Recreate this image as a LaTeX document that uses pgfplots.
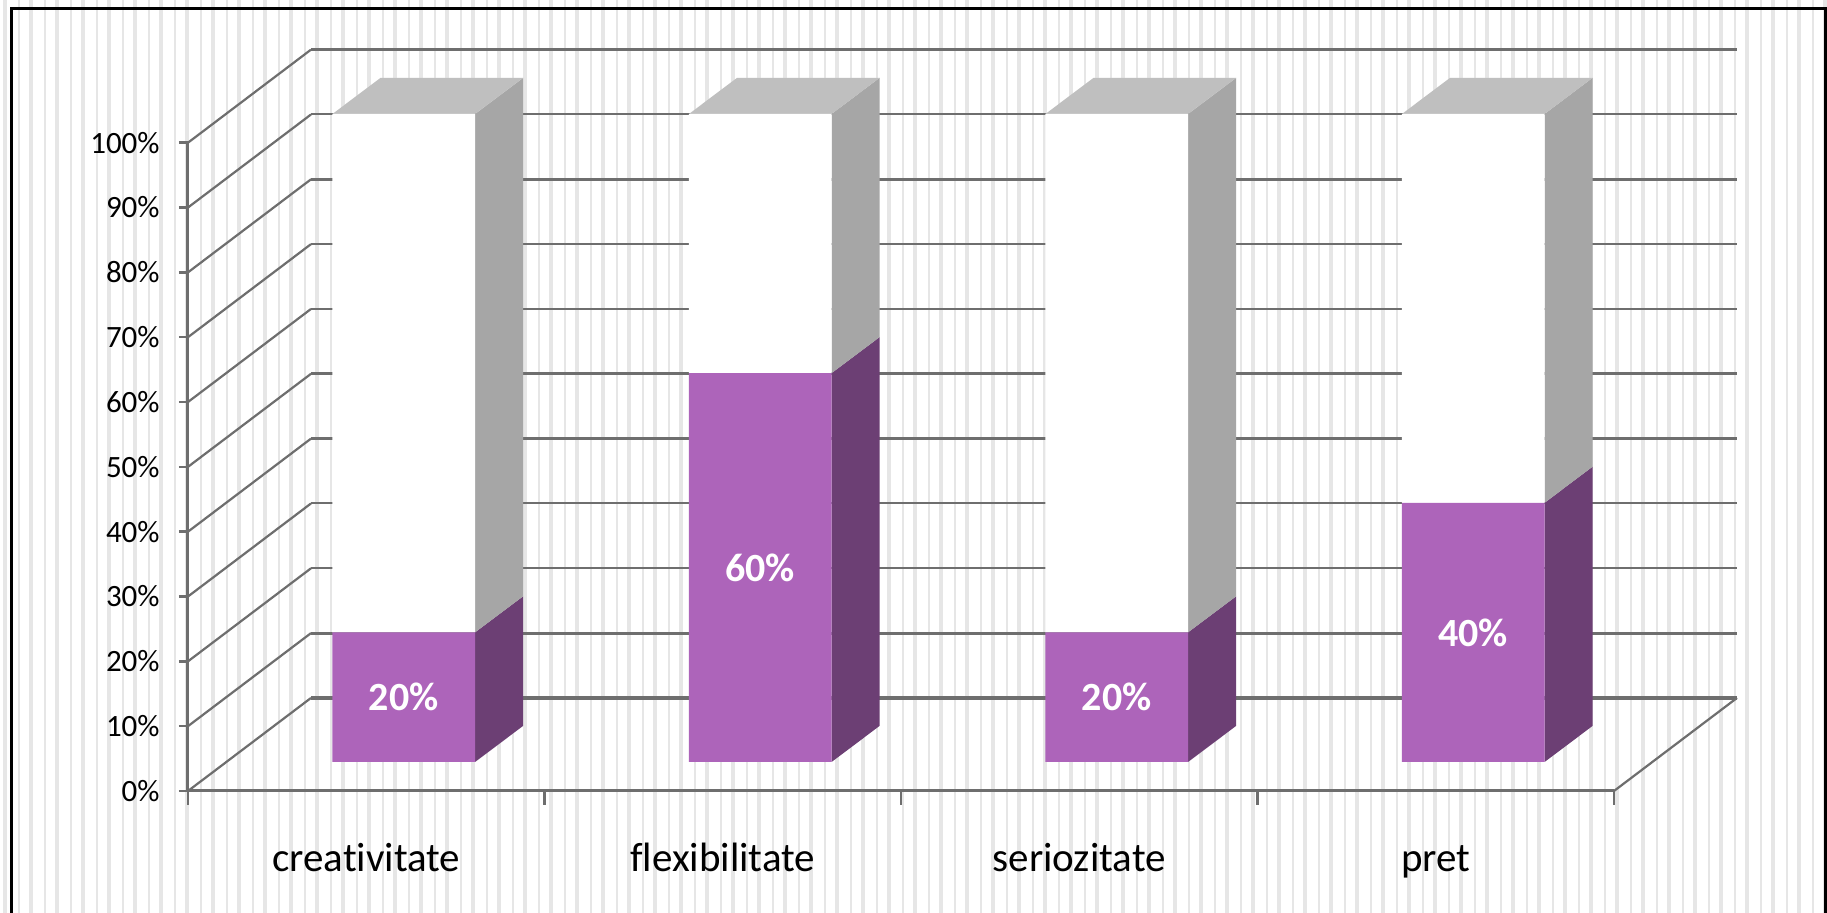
\documentclass[border=0pt]{standalone}
\usepackage{pgfplots}
\pgfplotsset{compat=1.18}
\usepackage{pgfplotstable}
\usepackage{fontspec}
\setmainfont{Carlito}[Ligatures=NoCommon]
\definecolor{wallline}{HTML}{6E6E6E}
\definecolor{stripe}{HTML}{E6E6E6}
\definecolor{barfront}{HTML}{AD64BA}
\definecolor{barside}{HTML}{6C3F74}
\definecolor{restside}{HTML}{A6A6A6}
\definecolor{resttop}{HTML}{BFBFBF}

% share of each category and the remainder up to 100%
\pgfplotstableread{
x    share rest
0.5  20    80
1.5  60    40
2.5  20    80
3.5  40    60
}\sharetable

% one gridline of the wall: diagonal on the side wall, then along the back wall
\newcommand{\wallline}[3]{%
  \addplot[wallline, line width=1.1pt] coordinates {(0,#1) (0.345,#2)};
  \addplot[wallline, line width=#3] coordinates {(0.345,#2) (4.345,#2)};
}

\pgfplotsset{
  plane/.style={scale only axis, width=713pt, xmin=0, xmax=4, ymin=0, ymax=100, clip=false},
}

\begin{document}
\begin{tikzpicture}[x=0.5pt,y=0.5pt]
  \path[use as bounding box] (0,0) rectangle (1827,913);
  \fill[white] (0,0) rectangle (1827,913);
  % vertical stripes of the chart background
  \foreach \k in {-4,...,66}{
    \fill[stripe] ({109+26*\k-2},0) rectangle ({109+26*\k+2},913);
    \fill[stripe] ({122.7+26*\k-1},0) rectangle ({122.7+26*\k+1},913);
  }
  % outer frame, open below the page edge
  \draw[black, line width=1.5pt] (11,-20) -- (11,904) -- (1825,904) -- (1825,-20);

  % walls, value axis and category axis
  \begin{axis}[plane, height=324.15pt, at={(94pt,61pt)}, anchor=south west,
      axis x line*=bottom, axis y line*=left,
      axis line style={wallline, line width=1.5pt},
      ytick={0,10,...,100},
      yticklabels={0\%,10\%,20\%,30\%,40\%,50\%,60\%,70\%,80\%,90\%,100\%},
      yticklabel style={font=\fontsize{15.5}{17}\selectfont, black, inner sep=0pt, xshift=-9.5pt},
      xtick={0.5,1.5,2.5,3.5},
      xticklabels={creativitate,flexibilitate,seriozitate,pret},
      xticklabel style={font=\fontsize{20.5}{24}\selectfont, black, yshift=-17pt,
        text height=15pt, text depth=0pt},
      minor xtick={0,1,2,3,4},
      tick align=outside,
      major x tick style={draw=none},
      major y tick style={wallline, line width=1.2pt},
      minor tick style={wallline, line width=1.2pt},
      minor tick length=7pt,
      major tick length=4.5pt,
    ]
    \wallline{0}{14.35}{1.6pt}
    \wallline{10}{24.35}{1.5pt}
    \wallline{20}{34.35}{1pt}
    \wallline{30}{44.35}{1pt}
    \wallline{40}{54.35}{1.5pt}
    \wallline{50}{64.35}{1.5pt}
    \wallline{60}{74.35}{1pt}
    \wallline{70}{84.35}{1pt}
    \wallline{80}{94.35}{1.5pt}
    \wallline{90}{104.35}{1pt}
    \wallline{100}{114.35}{1.6pt}
    % right edge of the floor
    \addplot[wallline, line width=1.1pt] coordinates {(4,0) (4.345,14.35)};
  \end{axis}

  % side and top faces of the columns
  \begin{axis}[plane, height=324pt, at={(112.75pt,75.5pt)}, anchor=south west, hide axis]
    \addplot[fill=barside, draw=none] coordinates {(0.7,0) (0.8346,5.56) (0.8346,25.56) (0.7,20)} --cycle;
    \addplot[fill=restside, draw=none] coordinates {(0.7,20) (0.8346,25.56) (0.8346,105.56) (0.7,100)} --cycle;
    \addplot[fill=resttop, draw=none] coordinates {(0.3,100) (0.7,100) (0.8346,105.56) (0.4346,105.56)} --cycle;

    \addplot[fill=barside, draw=none] coordinates {(1.7,0) (1.8346,5.56) (1.8346,65.56) (1.7,60)} --cycle;
    \addplot[fill=restside, draw=none] coordinates {(1.7,60) (1.8346,65.56) (1.8346,105.56) (1.7,100)} --cycle;
    \addplot[fill=resttop, draw=none] coordinates {(1.3,100) (1.7,100) (1.8346,105.56) (1.4346,105.56)} --cycle;

    \addplot[fill=barside, draw=none] coordinates {(2.7,0) (2.8346,5.56) (2.8346,25.56) (2.7,20)} --cycle;
    \addplot[fill=restside, draw=none] coordinates {(2.7,20) (2.8346,25.56) (2.8346,105.56) (2.7,100)} --cycle;
    \addplot[fill=resttop, draw=none] coordinates {(2.3,100) (2.7,100) (2.8346,105.56) (2.4346,105.56)} --cycle;

    \addplot[fill=barside, draw=none] coordinates {(3.7,0) (3.8346,5.56) (3.8346,45.56) (3.7,40)} --cycle;
    \addplot[fill=restside, draw=none] coordinates {(3.7,40) (3.8346,45.56) (3.8346,105.56) (3.7,100)} --cycle;
    \addplot[fill=resttop, draw=none] coordinates {(3.3,100) (3.7,100) (3.8346,105.56) (3.4346,105.56)} --cycle;
  \end{axis}

  % front faces of the columns
  \begin{axis}[plane, height=324pt, at={(112.75pt,75.5pt)}, anchor=south west, hide axis,
      ybar stacked, bar width=0.4,
    ]
    \addplot[fill=barfront, draw=none] table[x=x, y=share] {\sharetable};
    \addplot[fill=white, draw=none] table[x=x, y=rest] {\sharetable};
  \end{axis}

  % value labels, centred on the coloured part of each column
  \begin{axis}[plane, height=324pt, at={(112.75pt,75.5pt)}, anchor=south west, hide axis]
    \node[white, font=\fontsize{20}{24}\selectfont\bfseries] at (axis cs:0.5,10) {20\%};
    \node[white, font=\fontsize{20}{24}\selectfont\bfseries] at (axis cs:1.5,30) {60\%};
    \node[white, font=\fontsize{20}{24}\selectfont\bfseries] at (axis cs:2.5,10) {20\%};
    \node[white, font=\fontsize{20}{24}\selectfont\bfseries] at (axis cs:3.5,20) {40\%};
  \end{axis}
\end{tikzpicture}
\end{document}
